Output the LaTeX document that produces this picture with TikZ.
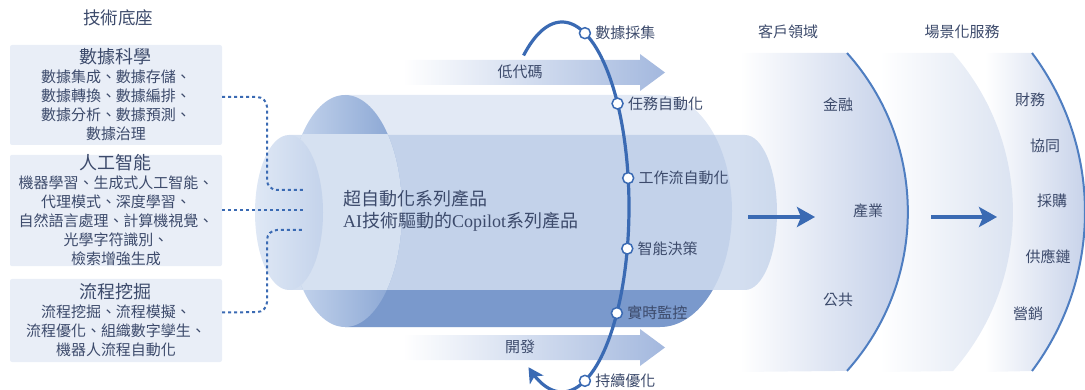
\documentclass[tikz,border=0pt]{standalone}
\usepackage{fontspec}
\setmainfont{Liberation Serif}
\newfontfamily\cjk{Noto Sans CJK TC}
\usetikzlibrary{arrows.meta,positioning}

\definecolor{ink}{HTML}{3C4A6B}
\definecolor{deepblue}{HTML}{3A6AB3}
\definecolor{paleblue}{HTML}{E2E9F5}
\definecolor{bandblue}{HTML}{7A99CC}
\definecolor{tubeblue}{HTML}{9FB8DE}
\definecolor{faceglow}{HTML}{D6E1F1}
\definecolor{faceleft}{HTML}{C8D7EE}
\definecolor{faceright}{HTML}{86A3D2}
\definecolor{capleft}{HTML}{DFE8F5}
\definecolor{capright}{HTML}{C4D3EB}
\definecolor{arrowblue}{HTML}{A3B8DE}
\definecolor{ringone}{HTML}{BAC8E5}
\definecolor{ringtwo}{HTML}{D6DFEF}
\definecolor{ringthree}{HTML}{BECBE6}
\definecolor{rimblue}{HTML}{4F7EC1}
\definecolor{boxfill}{HTML}{E9EEF7}

\begin{document}
\begin{tikzpicture}[x=1pt,y=-1pt,
  every node/.style={text=ink, font=\cjk\fontsize{15}{19}\selectfont, inner sep=1pt},
  basebox/.style={fill=boxfill, rounded corners=2pt, minimum width=212pt, inner ysep=0pt, align=center},
  link/.style={draw=deepblue, line width=2pt, dash pattern=on 3pt off 3pt, rounded corners=10pt},
  flow/.style={left color=white, right color=arrowblue},
  dot/.style={circle, draw=deepblue, fill=white, line width=1.5pt, minimum size=11pt, inner sep=0pt},
  bigarrow/.style={draw=deepblue, line width=4pt, -{Stealth[length=18pt,width=20pt,inset=4pt]}},
  rim/.style={draw=rimblue, line width=2pt}
]
\useasboundingbox (0,0) rectangle (1085,390);

% rings on the right, back to front
\shade[left color=white, right color=ringthree] (985,53) -- (1032,53)
  arc[start angle=36.87, end angle=-36.87, radius=265pt] -- (985,372) -- cycle;
\shade[left color=white, right color=ringtwo] (880,53) -- (953,53)
  arc[start angle=41.3, end angle=-41.3, radius=241pt] -- (880,372) -- cycle;
\shade[left color=white, right color=ringone] (740,53) -- (847,53)
  arc[start angle=41.9, end angle=-41.9, radius=238pt] -- (740,372) -- cycle;
\draw[rim] (847,53) arc[start angle=41.9, end angle=-41.9, radius=238pt];
\draw[rim] (1032,53) arc[start angle=36.87, end angle=-36.87, radius=265pt];

% big cylinder
\fill[paleblue] (345,95) -- (660,95)
  arc[start angle=90, end angle=-90, x radius=72pt, y radius=116pt] -- (345,327) -- cycle;
\begin{scope}
  \clip (345,95) -- (660,95)
    arc[start angle=90, end angle=-90, x radius=72pt, y radius=116pt] -- (345,327) -- cycle;
  \fill[bandblue] (340,290) rectangle (740,330);
\end{scope}
\shade[left color=faceleft, right color=faceright] (345,211) ellipse (57pt and 116pt);

% small cylinder in front
\fill[tubeblue, fill opacity=0.45] (289,135) -- (745,135)
  arc[start angle=90, end angle=-90, x radius=32pt, y radius=77.5pt] -- (289,290) -- cycle;
\begin{scope}
  \clip (280,135) rectangle (410,290);
  \fill[faceglow] (345,211) ellipse (57pt and 116pt);
\end{scope}
\shade[left color=capleft, right color=capright] (289,212.5) ellipse (34pt and 77.5pt);

% flow arrows
\shade[flow] (403,60) -- (640,60) -- (640,54) -- (665,72.5) -- (640,91) -- (640,85) -- (403,85) -- cycle;
\shade[flow] (403,335) -- (640,335) -- (640,329) -- (665,347.5) -- (640,366) -- (640,360) -- (403,360) -- cycle;
\node (lowcode) at (520,72) {低代碼};
\node (devel) at (520,347) {開發};

% headings
\node[font=\cjk\fontsize{17.5}{20}\selectfont] (hdbase) at (118,18) {技術底座};
\node (hdclient) at (788,32) {客戶領域};
\node (hdscene) at (962,32) {場景化服務};

% technology boxes
\node[basebox, minimum height=100pt] (b1) at (116,95)
  {{\fontsize{18}{20}\selectfont 數據科學}\\數據集成、數據存儲、\\數據轉換、數據編排、\\數據分析、數據預測、\\數據治理};
\node[basebox, minimum height=110pt] (b2) at (116,210.5)
  {{\fontsize{18}{20}\selectfont 人工智能}\\機器學習、生成式人工智能、\\代理模式、深度學習、\\自然語言處理、計算機視覺、\\光學字符識別、\\檢索增強生成};
\node[basebox, minimum height=83pt] (b3) at (116,320.5)
  {{\fontsize{18}{20}\selectfont 流程挖掘}\\流程挖掘、流程模擬、\\流程優化、組織數字孿生、\\機器人流程自動化};

\coordinate (e1) at (303,190);
\coordinate (e2) at (305,210);
\coordinate (e3) at (303,230);
\draw[link] ([yshift=-2pt]b1.east) -- (267,97) -- (267,190) -- (e1);
\draw[link] (b2.east |- e2) -- (e2);
\draw[link] ([yshift=8pt]b3.east) -- (267,312) -- (267,230) -- (e3);

% product text
\node[anchor=west, align=left, font=\cjk\fontsize{18}{22}\selectfont] (prod) at (342,211)
  {超自動化系列產品\\{\rmfamily AI}技術驅動的{\rmfamily Copilot}系列產品};

% cycle around the tube
\draw[deepblue, line width=3.2pt, {Stealth[length=15pt,width=16pt,inset=4pt]}-]
  plot[domain=-120:125, samples=150, smooth] ({562+67*cos(\x)},{207-185*sin(\x)});
\foreach \t/\n/\txt in {70/c1/數據採集, 34/c2/任務自動化, 9/c3/工作流自動化,
    -13/c4/智能決策, -35/c5/實時監控, -70/c6/持續優化} {
  \node[dot] (\n) at ({562+67*cos(\t)},{207-185*sin(\t)}) {};
  \node[right=3pt of \n] (\n-l) {\txt};
}

% arrows into the rings
\coordinate (a1) at (748,217);
\coordinate (a2) at (815,217);
\coordinate (a3) at (931,217);
\coordinate (a4) at (997,217);
\draw[bigarrow] (a1) -- (a2);
\draw[bigarrow] (a3) -- (a4);

% ring labels
\node (fin) at (838,105) {金融};
\node (ind) at (868,211) {產業};
\node (pub) at (838,300) {公共};
\node (acc) at (1030,100) {財務};
\node (col) at (1045,146) {協同};
\node (pro) at (1052,201) {採購};
\node (sup) at (1048,257) {供應鏈};
\node (mkt) at (1028,314) {營銷};
\end{tikzpicture}
\end{document}
